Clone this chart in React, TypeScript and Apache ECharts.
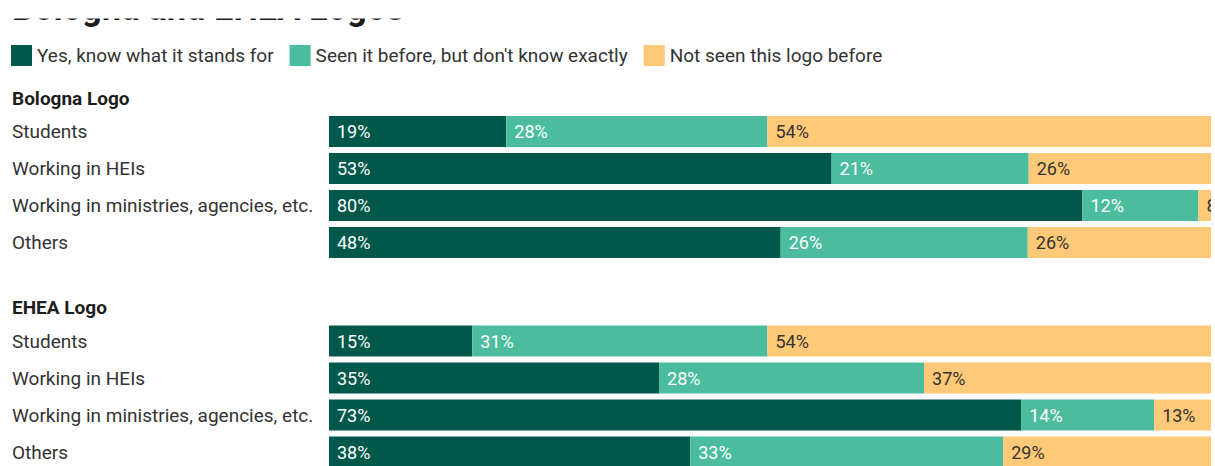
import React, { useEffect, useRef } from "react";
import * as echarts from "echarts";

const title = "Bologna and EHEA Logos";
const seriesNames = [
  "Yes, know what it stands for",
  "Seen it before, but don't know exactly",
  "Not seen this logo before",
];
const colors = ["#00584a", "#4bbd9e", "#ffc977"];
const labelColors = ["#ffffff", "#ffffff", "#333333"];
const groups = ["Bologna Logo", "EHEA Logo"];
const categories = [
  "Students",
  "Working in HEIs",
  "Working in ministries, agencies, etc.",
  "Others",
];

// Bologna Logo
const bolognaKnow = [18.8, 53.3, 79.9, 47.9];
const bolognaSeen = [27.7, 20.9, 12.3, 26.2];
const bolognaNotSeen = [53.5, 25.8, 7.8, 25.9];
// EHEA Logo
const eheaKnow = [15.2, 35.0, 73.4, 38.3];
const eheaSeen = [31.3, 28.1, 14.1, 33.2];
const eheaNotSeen = [53.5, 36.9, 12.5, 28.5];

const groupData = [
  [bolognaKnow, bolognaSeen, bolognaNotSeen],
  [eheaKnow, eheaSeen, eheaNotSeen],
];

const FONT = "Roboto, 'Noto Sans', sans-serif";

export default function App() {
  const ref = useRef<HTMLDivElement>(null);
  useEffect(() => {
    if (!ref.current) return;
    const chart = echarts.init(ref.current, undefined, { renderer: "svg" });
    const gridTops = [113, 322.5];
    const headerY = [98.3, 307.8];
    const series: any[] = [];
    groupData.forEach((arrs, gi) => {
      arrs.forEach((vals, si) => {
        series.push({
          type: "bar",
          name: seriesNames[si],
          stack: "g" + gi,
          xAxisIndex: gi,
          yAxisIndex: gi,
          barWidth: 31,
          itemStyle: { color: colors[si] },
          label: {
            show: true,
            position: "insideLeft",
            distance: 8,
            color: labelColors[si],
            fontFamily: FONT,
            fontSize: 18,
            formatter: (p: any) => Math.round(p.value) + "%",
          },
          emphasis: { disabled: true },
          data: vals,
        });
      });
    });
    chart.setOption({
      animation: false,
      textStyle: { fontFamily: FONT },
      legend: {
        data: seriesNames,
        left: 11,
        top: 45,
        padding: 0,
        icon: "rect",
        itemWidth: 21,
        itemHeight: 21,
        itemGap: 16,
        selectedMode: false,
        textStyle: { fontSize: 19, color: "#333333", fontFamily: FONT },
      },
      grid: gridTops.map((t) => ({ left: 329, width: 943, top: t, height: 148 })),
      xAxis: gridTops.map((_, i) => ({
        type: "value",
        gridIndex: i,
        min: 0,
        max: 100,
        show: false,
      })),
      yAxis: gridTops.map((_, i) => ({
        type: "category",
        gridIndex: i,
        inverse: true,
        data: categories,
        axisLine: { show: false },
        axisTick: { show: false },
        splitLine: { show: false },
        axisLabel: {
          align: "left",
          margin: 317,
          fontSize: 19,
          color: "#333333",
          fontFamily: FONT,
        },
      })),
      series,
      graphic: [
        {
          type: "text",
          left: 12,
          top: 8 - 17.5,
          z: 10,
          style: {
            text: title,
            font: "bold 34.5px " + FONT,
            fill: "#1d1d1d",
          },
        },
        {
          type: "rect",
          z: 20,
          shape: { x: 0, y: 0, width: 1300, height: 18.5 },
          style: { fill: "#ffffff" },
        },
        ...groups.map((g, i) => ({
          type: "text",
          x: 12,
          y: headerY[i],
          z: 10,
          style: {
            text: g,
            font: "bold 19px " + FONT,
            fill: "#1d1d1d",
            verticalAlign: "middle",
          },
        })),
      ],
    });
    return () => chart.dispose();
  }, []);
  return (
    <div
      style={{
        position: "fixed",
        left: 0,
        top: 0,
        width: 1211,
        height: 466,
        overflow: "hidden",
        background: "#ffffff",
      }}
    >
      <div ref={ref} style={{ width: 1300, height: 490 }} />
    </div>
  );
}
